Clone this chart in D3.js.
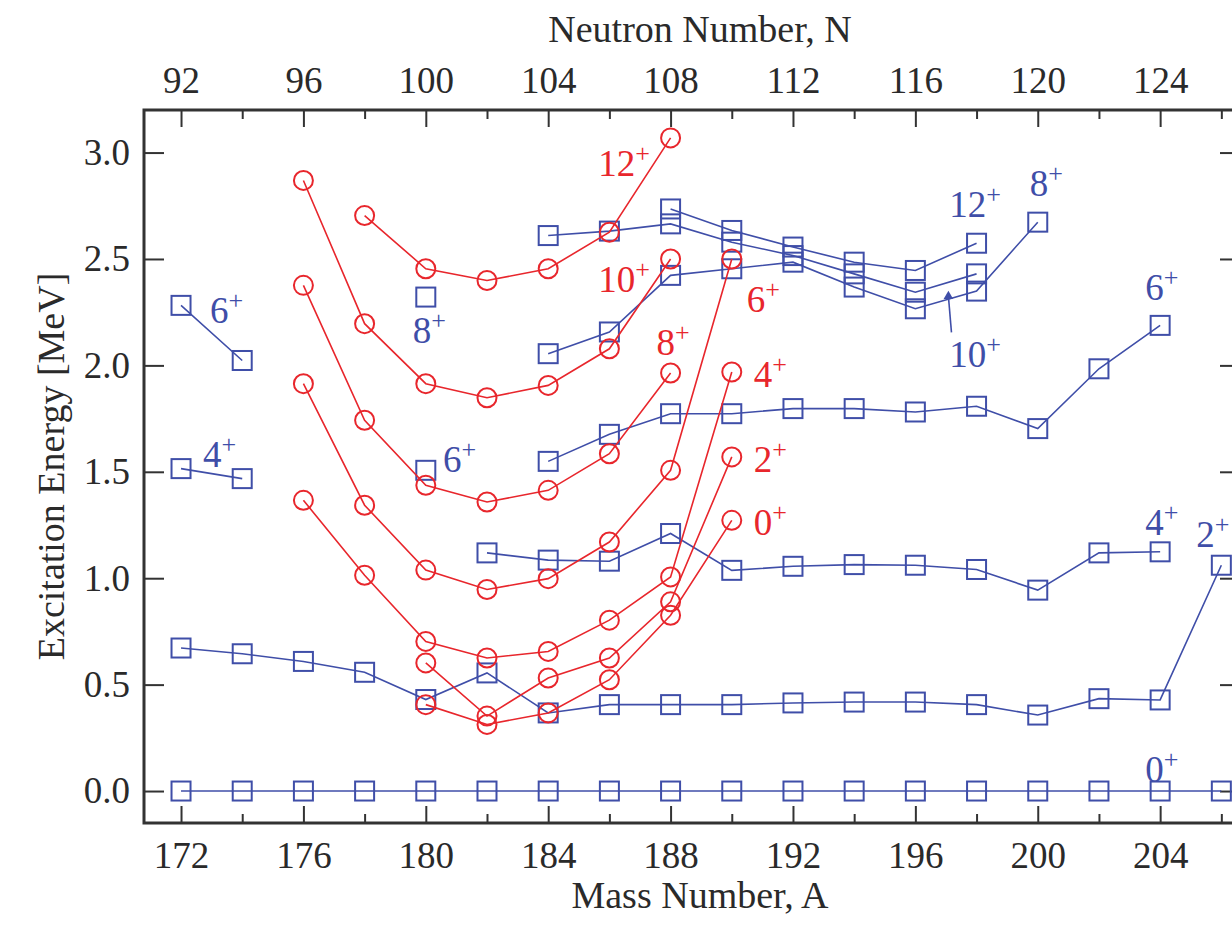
<!DOCTYPE html>
<html>
<head>
<meta charset="utf-8">
<script src="https://cdn.jsdelivr.net/npm/d3@7"></script>
<style>
  html, body { margin: 0; padding: 0; background: #fff; }
  svg { display: block; }
  text { font-family: "Liberation Serif", "Times New Roman", serif; }
</style>
</head>
<body>
<div id="chart"></div>
<script>
// mass numbers shared by every band (null = no level)
const massNumbers = [172, 174, 176, 178, 180, 182, 184, 186, 188, 190, 192, 194, 196, 198, 200, 202, 204, 206];

// blue squares (near-spherical / oblate levels), MeV
const oblate0  = [0, 0, 0, 0, 0, 0, 0, 0, 0, 0, 0, 0, 0, 0, 0, 0, 0, 0];
const oblate2  = [0.672, 0.645, 0.609, 0.558, 0.430, 0.555, 0.367, 0.406, 0.406, 0.406, 0.414, 0.418, 0.418, 0.406, 0.357, 0.434, 0.428, 1.061];
const oblate4  = [1.515, 1.468, null, null, null, 1.119, 1.085, 1.080, 1.210, 1.037, 1.056, 1.064, 1.061, 1.041, 0.944, 1.119, 1.124, null];
const oblate6  = [2.282, 2.023, null, null, 1.507, null, 1.549, 1.676, 1.773, 1.773, 1.797, 1.797, 1.781, 1.808, 1.703, 1.984, 2.188, null];
const oblate8  = [null, null, null, null, 2.321, null, 2.055, 2.157, 2.423, 2.454, 2.485, 2.368, 2.266, 2.349, 2.673, null, null, null];
const oblate10 = [null, null, null, null, null, null, 2.610, 2.631, 2.665, 2.579, 2.516, 2.430, 2.344, 2.430, null, null, null, null];
const oblate12 = [null, null, null, null, null, null, null, null, 2.735, 2.634, 2.556, 2.485, 2.446, 2.574, null, null, null, null];

// red circles (prolate intruder band), MeV
const prolate0  = [null, null, null, null, 0.406, 0.313, 0.367, 0.523, 0.826, 1.272, null, null, null, null, null, null, null, null];
const prolate2  = [null, null, null, null, 0.602, 0.352, 0.531, 0.625, 0.889, 1.570, null, null, null, null, null, null, null, null];
const prolate4  = [null, null, 1.366, 1.014, 0.703, 0.625, 0.656, 0.803, 1.006, 1.969, null, null, null, null, null, null, null, null];
const prolate6  = [null, null, 1.914, 1.343, 1.038, 0.947, 0.998, 1.170, 1.507, 2.500, null, null, null, null, null, null, null, null];
const prolate8  = [null, null, 2.376, 1.742, 1.437, 1.358, 1.413, 1.585, 1.964, null, null, null, null, null, null, null, null, null];
const prolate10 = [null, null, 2.869, 2.196, 1.914, 1.848, 1.906, 2.078, 2.500, null, null, null, null, null, null, null, null, null];
const prolate12 = [null, null, null, 2.704, 2.454, 2.399, 2.454, 2.626, 3.069, null, null, null, null, null, null, null, null, null];

// tick labels
const massTicks = [172, 176, 180, 184, 188, 192, 196, 200, 204];
const massMinor = [174, 178, 182, 186, 190, 194, 198, 202, 206];
const neutronTicks = [92, 96, 100, 104, 108, 112, 116, 120, 124];
const neutronMinor = [94, 98, 102, 106, 110, 114, 118, 122, 126];
const energyTicks = [0, 0.5, 1.0, 1.5, 2.0, 2.5, 3.0];

// spin labels: [text, A, E] (placed in data space)
const redLabels = [["12", 185.64, 2.892], ["10", 185.64, 2.343], ["8", 187.54, 2.047], ["6", 190.49, 2.249],
                   ["4", 190.72, 1.897], ["2", 190.72, 1.498], ["0", 190.72, 1.202]];
const blueLabels = [["6", 172.95, 2.197], ["8", 179.57, 2.103], ["4", 172.72, 1.521], ["6", 180.56, 1.498],
                    ["12", 197.11, 2.695], ["8", 199.74, 2.798], ["10", 197.11, 1.991], ["6", 203.51, 2.305],
                    ["4", 203.51, 1.202], ["2", 205.18, 1.146], ["0", 203.51, 0.042]];

const width = 1232, height = 929;
const mLeft = 144, mTop = 110, mBottom = 823, mRight = 1240;
const red = "#e8262c", blue = "#3f4ea8", axisColor = "#333";

const x = d3.scaleLinear().domain([170.79, 206.61]).range([mLeft, mRight]);
const xN = d3.scaleLinear().domain([170.79 - 80, 206.61 - 80]).range([mLeft, mRight]);
const y = d3.scaleLinear().domain([-0.1502, 3.2]).range([mBottom, mTop]);

const svg = d3.select("#chart").append("svg")
  .attr("width", width)
  .attr("height", height);

// axes
function styleAxis(g) {
  g.select(".domain").remove();
  g.selectAll(".tick line").attr("stroke", axisColor).attr("stroke-width", 2);
  g.selectAll(".tick text").attr("fill", "#2a2a2a").attr("font-size", 37)
    .attr("font-family", "'Liberation Serif', 'Times New Roman', serif");
}

svg.append("g").attr("transform", `translate(0,${mBottom})`)
  .call(d3.axisBottom(x).tickValues(massTicks).tickSize(-17).tickPadding(19))
  .call(styleAxis);
svg.append("g").attr("transform", `translate(0,${mBottom})`)
  .call(d3.axisBottom(x).tickValues(massMinor).tickSize(-9).tickFormat(""))
  .call(styleAxis);
svg.append("g").attr("transform", `translate(0,${mTop})`)
  .call(d3.axisTop(xN).tickValues(neutronTicks).tickSize(-17).tickPadding(17))
  .call(styleAxis);
svg.append("g").attr("transform", `translate(0,${mTop})`)
  .call(d3.axisTop(xN).tickValues(neutronMinor).tickSize(-9).tickFormat(""))
  .call(styleAxis);
svg.append("g").attr("transform", `translate(${mLeft},0)`)
  .call(d3.axisLeft(y).tickValues(energyTicks).tickSize(-20).tickPadding(14).tickFormat(d3.format(".1f")))
  .call(styleAxis);
svg.append("g").attr("transform", `translate(${mRight},0)`)
  .call(d3.axisRight(y).tickValues(energyTicks).tickSize(-20).tickFormat(""))
  .call(styleAxis);

svg.append("rect")
  .attr("x", mLeft).attr("y", mTop)
  .attr("width", mRight - mLeft).attr("height", mBottom - mTop)
  .attr("fill", "none").attr("stroke", axisColor).attr("stroke-width", 3);

// titles
svg.append("text").attr("x", 700).attr("y", 42).attr("text-anchor", "middle")
  .attr("font-size", 38).attr("fill", "#2a2a2a").text("Neutron Number, N");
svg.append("text").attr("x", 700).attr("y", 908).attr("text-anchor", "middle")
  .attr("font-size", 38).attr("fill", "#2a2a2a").text("Mass Number, A");
svg.append("text").attr("transform", `translate(64,${(mTop + mBottom) / 2}) rotate(-90)`)
  .attr("text-anchor", "middle").attr("font-size", 38).attr("fill", "#2a2a2a")
  .text("Excitation Energy [MeV]");

// bands
const line = d3.line()
  .defined(d => d.e != null)
  .x(d => x(d.a))
  .y(d => y(d.e));

function band(values, color, marker) {
  const pts = massNumbers.map((a, i) => ({a, e: values[i]}));
  const g = svg.append("g");
  g.append("path").datum(pts)
    .attr("d", line).attr("fill", "none")
    .attr("stroke", color).attr("stroke-width", 1.6);
  const shown = pts.filter(d => d.e != null);
  if (marker === "square") {
    g.selectAll("rect").data(shown).join("rect")
      .attr("x", d => x(d.a) - 9.5).attr("y", d => y(d.e) - 9.5)
      .attr("width", 19).attr("height", 19)
      .attr("fill", "none").attr("stroke", color).attr("stroke-width", 2);
  } else {
    g.selectAll("circle").data(shown).join("circle")
      .attr("cx", d => x(d.a)).attr("cy", d => y(d.e)).attr("r", 9.5)
      .attr("fill", "none").attr("stroke", color).attr("stroke-width", 2);
  }
}

[oblate0, oblate2, oblate4, oblate6, oblate8, oblate10, oblate12].forEach(v => band(v, blue, "square"));
[prolate0, prolate2, prolate4, prolate6, prolate8, prolate10, prolate12].forEach(v => band(v, red, "circle"));

// spin labels with superscript +
function spinLabel(d, color) {
  const t = svg.append("text")
    .attr("x", x(d[1])).attr("y", y(d[2]))
    .attr("font-size", 37).attr("fill", color);
  t.append("tspan").text(d[0]);
  t.append("tspan").attr("font-size", 26).attr("dy", -14).text("+");
}
redLabels.forEach(d => spinLabel(d, red));
blueLabels.forEach(d => spinLabel(d, blue));

// pointer for the blue 10+ band
svg.append("line")
  .attr("x1", x(197.18)).attr("y1", y(2.155))
  .attr("x2", x(197.08)).attr("y2", y(2.325))
  .attr("stroke", blue).attr("stroke-width", 1.6);
svg.append("path")
  .attr("d", d3.symbol(d3.symbolTriangle, 40)())
  .attr("transform", `translate(${x(197.08)},${y(2.325)})`)
  .attr("fill", blue);
</script>
</body>
</html>
